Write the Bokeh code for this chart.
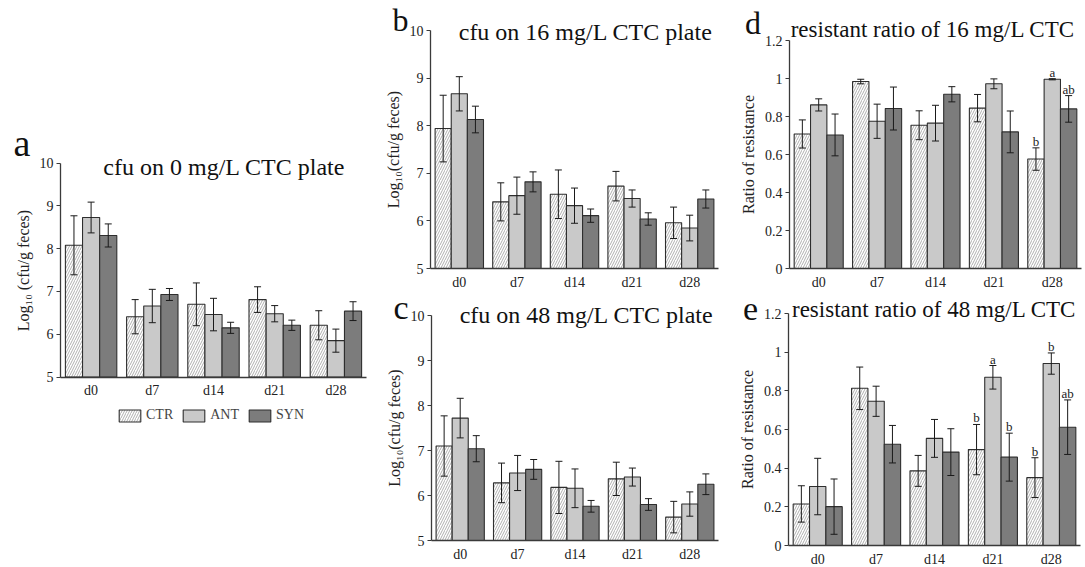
from bokeh.plotting import figure
from bokeh.models import (Range1d, ColumnDataSource, Whisker, TeeHead,
                          Label, Legend, LegendItem, FixedTicker)
from bokeh.transform import dodge
from bokeh.layouts import row, column
from bokeh.embed import file_html
from bokeh.resources import INLINE
from bokeh.core.properties import value

days = ["d0", "d7", "d14", "d21", "d28"]
groups = ["CTR", "ANT", "SYN"]

# Panel a: cfu on 0 mg/L CTC plate
a_ctr = [8.08, 6.41, 6.70, 6.81, 6.21]
a_ctr_err = [0.69, 0.40, 0.50, 0.30, 0.34]
a_ant = [8.73, 6.66, 6.46, 6.48, 5.85]
a_ant_err = [0.36, 0.39, 0.38, 0.19, 0.27]
a_syn = [8.31, 6.93, 6.15, 6.21, 6.54]
a_syn_err = [0.27, 0.14, 0.13, 0.12, 0.22]

# Panel b: cfu on 16 mg/L CTC plate
b_ctr = [7.94, 6.40, 6.56, 6.73, 5.96]
b_ctr_err = [0.70, 0.40, 0.51, 0.31, 0.33]
b_ant = [8.67, 6.53, 6.32, 6.47, 5.85]
b_ant_err = [0.36, 0.39, 0.37, 0.18, 0.27]
b_syn = [8.13, 6.82, 6.11, 6.04, 6.46]
b_syn_err = [0.28, 0.21, 0.14, 0.13, 0.19]

# Panel c: cfu on 48 mg/L CTC plate
c_ctr = [7.10, 6.28, 6.18, 6.37, 5.52]
c_ctr_err = [0.67, 0.44, 0.58, 0.37, 0.35]
c_ant = [7.72, 6.50, 6.16, 6.41, 5.81]
c_ant_err = [0.44, 0.39, 0.43, 0.20, 0.27]
c_syn = [7.04, 6.58, 5.76, 5.80, 6.25]
c_syn_err = [0.29, 0.22, 0.13, 0.13, 0.23]

# Panel d: resistant ratio of 16 mg/L CTC
d_ctr = [0.708, 0.984, 0.754, 0.844, 0.576]
d_ctr_err = [0.074, 0.012, 0.076, 0.072, 0.059]
d_ant = [0.861, 0.775, 0.765, 0.972, 0.996]
d_ant_err = [0.032, 0.090, 0.094, 0.026, 0.003]
d_syn = [0.703, 0.842, 0.917, 0.719, 0.840]
d_syn_err = [0.110, 0.113, 0.040, 0.110, 0.070]
d_ctr_sig = ["", "", "", "", "b"]
d_ant_sig = ["", "", "", "", "a"]
d_syn_sig = ["", "", "", "", "ab"]

# Panel e: resistant ratio of 48 mg/L CTC
e_ctr = [0.215, 0.813, 0.386, 0.496, 0.351]
e_ctr_err = [0.094, 0.110, 0.080, 0.130, 0.103]
e_ant = [0.305, 0.746, 0.554, 0.870, 0.941]
e_ant_err = [0.146, 0.078, 0.098, 0.061, 0.055]
e_syn = [0.201, 0.524, 0.483, 0.457, 0.612]
e_syn_err = [0.143, 0.097, 0.121, 0.124, 0.141]
e_ctr_sig = ["", "", "", "b", "b"]
e_ant_sig = ["", "", "", "a", "b"]
e_syn_sig = ["", "", "", "b", "ab"]

log_ticks = [5, 6, 7, 8, 9, 10]
log_tick_labels = ["5", "6", "7", "8", "9", "10"]
ratio_ticks = [0, 0.2, 0.4, 0.6, 0.8, 1, 1.2]
ratio_tick_labels = ["0", "0.2", "0.4", "0.6", "0.8", "1", "1.2"]

SERIF = "Liberation Serif"
FILLS = {"CTR": "white", "ANT": "#c9c9c9", "SYN": "#7c7c7c"}
HATCH = {"CTR": "/", "ANT": None, "SYN": None}
BAR_W = 0.28
OFFSETS = {"CTR": -BAR_W, "ANT": 0.0, "SYN": BAR_W}
AXIS_COLOR = "#3a3a3a"


def make_panel(series, errs, sigs, y0, y1, ticks, tick_labels, ylabel,
               frame, data_box, letter, letter_xy, letter_px,
               title, title_xy, title_px, top_pad=0, legend_loc=None):
    # frame = (left, top, width, height) px of the drawing area
    # data_box = (left, top, right, bottom) px where the axes meet the data
    fx, fy, fw, fh = frame
    dx0, dy0, dx1, dy1 = data_box
    n = len(days)
    ppx = (dx1 - dx0) / n
    ppy = (dy1 - dy0) / (y1 - y0)
    xr = Range1d(-(dx0 - fx) / ppx, n + (fx + fw - dx1) / ppx)
    yr = Range1d(y0 - (fy + fh - dy1) / ppy, y1 + (dy0 - fy) / ppy)

    p = figure(x_range=xr, y_range=yr, frame_width=fw, frame_height=fh,
               min_border_left=0, min_border_right=0,
               min_border_top=top_pad, min_border_bottom=0,
               output_backend="svg", toolbar_location=None)
    p.title.visible = False
    p.outline_line_color = None
    p.xgrid.visible = False
    p.ygrid.visible = False
    p.background_fill_color = "white"
    p.border_fill_color = "white"

    centers = [i + 0.5 for i in range(n)]
    renderers = {}
    for g, vals, er, sg in zip(groups, series, errs, sigs):
        src = ColumnDataSource(dict(
            x=centers, day=days, top=vals,
            upper=[v + e for v, e in zip(vals, er)],
            lower=[v - e for v, e in zip(vals, er)],
            sig=sg if sg is not None else [""] * n))
        xd = dodge("x", OFFSETS[g])
        kw = dict(fill_color=FILLS[g], line_color="#2e2e2e", line_width=1.1)
        if HATCH[g]:
            kw.update(hatch_pattern=HATCH[g], hatch_color="#9a9a9a",
                      hatch_scale=5, hatch_weight=0.8)
        r = p.vbar(x=xd, top="top", bottom=y0, width=BAR_W, source=src, **kw)
        renderers[g] = r
        w = Whisker(base=xd, upper="upper", lower="lower", source=src,
                    line_color="#1a1a1a", line_width=1,
                    upper_head=TeeHead(size=7, line_color="#1a1a1a", line_width=1),
                    lower_head=TeeHead(size=7, line_color="#1a1a1a", line_width=1),
                    level="overlay")
        p.add_layout(w)
        if sg is not None:
            p.text(x=xd, y="upper", text="sig", source=src,
                   text_font=value(SERIF), text_font_size="13px",
                   text_align="center", text_baseline="bottom",
                   y_offset=1, text_color="#222222")

    xa, ya = p.xaxis[0], p.yaxis[0]
    for ax in (xa, ya):
        ax.axis_line_color = AXIS_COLOR
        ax.axis_line_width = 1.3
        ax.minor_tick_line_color = None
        ax.major_label_text_font = SERIF
        ax.axis_label_text_font = SERIF
        ax.axis_label_text_font_style = "normal"
        ax.major_label_text_color = "#222222"
    xa.fixed_location = y0
    xa.bounds = (0, n)
    xa.ticker = FixedTicker(ticks=centers)
    xa.major_label_overrides = {c: d for c, d in zip(centers, days)}
    xa.major_tick_line_color = None
    xa.major_tick_in = 0
    xa.major_tick_out = 0
    xa.major_label_text_font_size = "14px"
    xa.major_label_standoff = 6

    ya.fixed_location = 0
    ya.bounds = (y0, y1)
    ya.ticker = FixedTicker(ticks=ticks)
    ya.major_label_overrides = {t: l for t, l in zip(ticks, tick_labels)}
    ya.major_tick_in = 0
    ya.major_tick_out = 4
    ya.major_tick_line_color = AXIS_COLOR
    ya.major_label_text_font_size = "14px"
    ya.major_label_standoff = 3
    ya.axis_label = ylabel
    ya.axis_label_text_font_size = "16px"
    ya.axis_label_standoff = 5
    ya.axis_label_text_color = "#222222"

    # texts: the given y is the baseline; place by their middle
    for txt, (tx, ty), size in ((letter, letter_xy, letter_px), (title, title_xy, title_px)):
        p.add_layout(Label(x=tx, y=ty + 0.34 * size / ppy, text=txt,
                           text_font=SERIF, text_font_size=f"{size}px",
                           text_color="#111111", text_baseline="middle"))

    if legend_loc is not None:
        lg = Legend(items=[LegendItem(label=g, renderers=[renderers[g]]) for g in groups],
                    orientation="horizontal", location=legend_loc,
                    border_line_alpha=0, background_fill_alpha=0,
                    glyph_width=27, glyph_height=15, spacing=7,
                    label_text_font=SERIF, label_text_font_size="14px",
                    label_standoff=3, padding=2, margin=0)
        p.add_layout(lg)
    return p


pa = make_panel([a_ctr, a_ant, a_syn], [a_ctr_err, a_ant_err, a_syn_err],
                [None, None, None], 5, 10, log_ticks, log_tick_labels,
                "Log\u2081\u2080 (cfu/g feces)",
                (0, 120, 370, 320), (60, 162.7, 366, 376.5),
                "a", (-0.77, 10.18), 38, "cfu on 0 mg/L CTC plate", (0.70, 9.72), 24,
                top_pad=120, legend_loc=(114, 15))

pb = make_panel([b_ctr, b_ant, b_syn], [b_ctr_err, b_ant_err, b_syn_err],
                [None, None, None], 5, 10, log_ticks, log_tick_labels,
                "Log\u2081\u2080(cfu/g feces)",
                (370, 0, 352, 290), (430, 30, 718, 268),
                "b", (-0.66, 10.0), 32, "cfu on 16 mg/L CTC plate", (0.49, 9.79), 24)

pc = make_panel([c_ctr, c_ant, c_syn], [c_ctr_err, c_ant_err, c_syn_err],
                [None, None, None], 5, 10, log_ticks, log_tick_labels,
                "Log\u2081\u2080(cfu/g feces)",
                (370, 290, 352, 276), (431, 315, 718, 540),
                "c", (-0.66, 9.93), 34, "cfu on 48 mg/L CTC plate", (0.49, 9.82), 24)

pd_ = make_panel([d_ctr, d_ant, d_syn], [d_ctr_err, d_ant_err, d_syn_err],
                 [d_ctr_sig, d_ant_sig, d_syn_sig], 0, 1.2, ratio_ticks, ratio_tick_labels,
                 "Ratio of resistance",
                 (722, 0, 362, 290), (789, 40, 1081, 268),
                 "d", (-0.76, 1.237), 32, "resistant ratio of 16 mg/L CTC", (0.02, 1.216), 23)

pe = make_panel([e_ctr, e_ant, e_syn], [e_ctr_err, e_ant_err, e_syn_err],
                [e_ctr_sig, e_ant_sig, e_syn_sig], 0, 1.2, ratio_ticks, ratio_tick_labels,
                "Ratio of resistance",
                (722, 290, 362, 276), (788, 313, 1080, 545),
                "e", (-0.78, 1.163), 34, "resistant ratio of 48 mg/L CTC", (0.06, 1.179), 23)

layout = row(column(pa), column(pb, pc), column(pd_, pe))
open("out.html", "w").write(file_html(layout, INLINE))
